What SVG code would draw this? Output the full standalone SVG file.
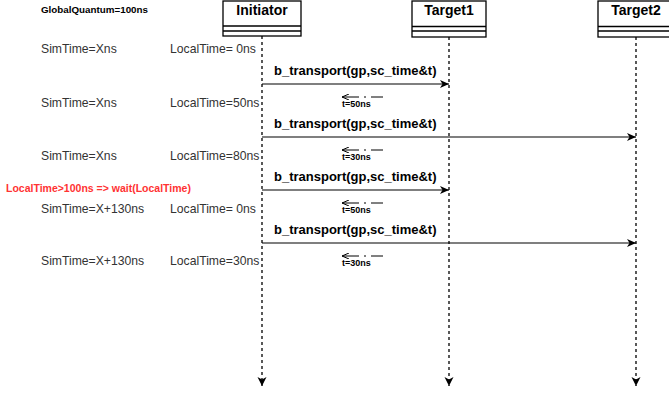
<svg xmlns="http://www.w3.org/2000/svg" width="669" height="393" viewBox="0 0 669 393">
<style>
.box{fill:#fff;stroke:#000;stroke-width:1.3}
.ttl{font-family:"Liberation Sans",Arial,sans-serif;font-weight:bold;font-size:14px;fill:#000;text-anchor:middle}
.life{stroke:#000;stroke-width:1.3;stroke-dasharray:3 3;fill:none}
.msg{stroke:#000;stroke-width:1.2;fill:none}
.ret{stroke:#000;stroke-width:1;fill:none;stroke-dasharray:12 5 2 5 20}
.ml{font-family:"Liberation Sans",Arial,sans-serif;font-weight:bold;font-size:13px;fill:#000}
.rl{font-family:"Liberation Sans",Arial,sans-serif;font-weight:bold;font-size:9px;fill:#000}
.t{font-family:"Liberation Sans",Arial,sans-serif;font-size:12.2px;fill:#333}
.sm{font-family:"Liberation Sans",Arial,sans-serif;font-weight:bold;font-size:9.8px;fill:#000}
.red{font-family:"Liberation Sans",Arial,sans-serif;font-weight:bold;font-size:10.5px;fill:#ff3333}
</style>
<defs>
<marker id="ah" markerWidth="10" markerHeight="10" refX="9" refY="5" orient="auto" markerUnits="userSpaceOnUse">
<path d="M0,1 L9,5 L0,9 L2.5,5 Z" fill="#000"/>
</marker>
<marker id="ahl" markerWidth="10" markerHeight="10" refX="9" refY="5" orient="auto" markerUnits="userSpaceOnUse">
<path d="M0,0.5 L9,5 L0,9.5 L2.5,5 Z" fill="#000"/>
</marker>
<marker id="ra" markerWidth="8" markerHeight="6" refX="7" refY="3" orient="auto" markerUnits="userSpaceOnUse">
<path d="M0,0 L7,3 L0,6" fill="none" stroke="#000" stroke-width="1"/>
</marker>
</defs>
<g id="initiator">
<path class="life" d="M262,36 V386" marker-end="url(#ahl)"/>
<rect class="box" x="223" y="1" width="78" height="35"/>
<line class="box" x1="223" y1="26" x2="301" y2="26"/>
<line class="box" x1="223" y1="31" x2="301" y2="31"/>
<text class="ttl" x="262" y="15">Initiator</text>
</g>
<g id="target1">
<path class="life" d="M449,37 V386" marker-end="url(#ahl)"/>
<rect class="box" x="412" y="1" width="74" height="36"/>
<line class="box" x1="412" y1="26.5" x2="486" y2="26.5"/>
<line class="box" x1="412" y1="31" x2="486" y2="31"/>
<text class="ttl" x="449" y="15">Target1</text>
</g>
<g id="target2">
<path class="life" d="M636,37 V386" marker-end="url(#ahl)"/>
<rect class="box" x="598" y="1" width="76" height="36"/>
<line class="box" x1="598" y1="26.5" x2="674" y2="26.5"/>
<line class="box" x1="598" y1="31" x2="674" y2="31"/>
<text class="ttl" x="636" y="15">Target2</text>
</g>
<g id="connectors">
<path class="msg" d="M262,84 H449" marker-end="url(#ah)"/>
<path class="msg" d="M262,137 H636" marker-end="url(#ah)"/>
<path class="msg" d="M262,190 H449" marker-end="url(#ah)"/>
<path class="msg" d="M262,243 H636" marker-end="url(#ah)"/>
<path class="ret" d="M383,97 H342" marker-end="url(#ra)"/>
<path class="ret" d="M383,150 H342" marker-end="url(#ra)"/>
<path class="ret" d="M383,203 H342" marker-end="url(#ra)"/>
<path class="ret" d="M383,256 H342" marker-end="url(#ra)"/>
</g>
<g id="labels">
<text class="ml" x="274" y="75">b_transport(gp,sc_time&amp;t)</text>
<text class="ml" x="274" y="128">b_transport(gp,sc_time&amp;t)</text>
<text class="ml" x="274" y="181">b_transport(gp,sc_time&amp;t)</text>
<text class="ml" x="274" y="234">b_transport(gp,sc_time&amp;t)</text>
<text class="rl" x="342" y="107">t=50ns</text>
<text class="rl" x="342" y="160">t=30ns</text>
<text class="rl" x="342" y="213">t=50ns</text>
<text class="rl" x="342" y="266">t=30ns</text>
<text class="sm" x="41" y="13">GlobalQuantum=100ns</text>
<text class="t" x="41" y="53">SimTime=Xns</text>
<text class="t" x="170" y="53">LocalTime= 0ns</text>
<text class="t" x="41" y="107">SimTime=Xns</text>
<text class="t" x="170" y="107">LocalTime=50ns</text>
<text class="t" x="41" y="160">SimTime=Xns</text>
<text class="t" x="170" y="160">LocalTime=80ns</text>
<text class="red" x="6" y="192">LocalTime&gt;100ns =&gt; wait(LocalTime)</text>
<text class="t" x="41" y="213">SimTime=X+130ns</text>
<text class="t" x="170" y="213">LocalTime= 0ns</text>
<text class="t" x="41" y="265">SimTime=X+130ns</text>
<text class="t" x="170" y="265">LocalTime=30ns</text>
</g>
</svg>
